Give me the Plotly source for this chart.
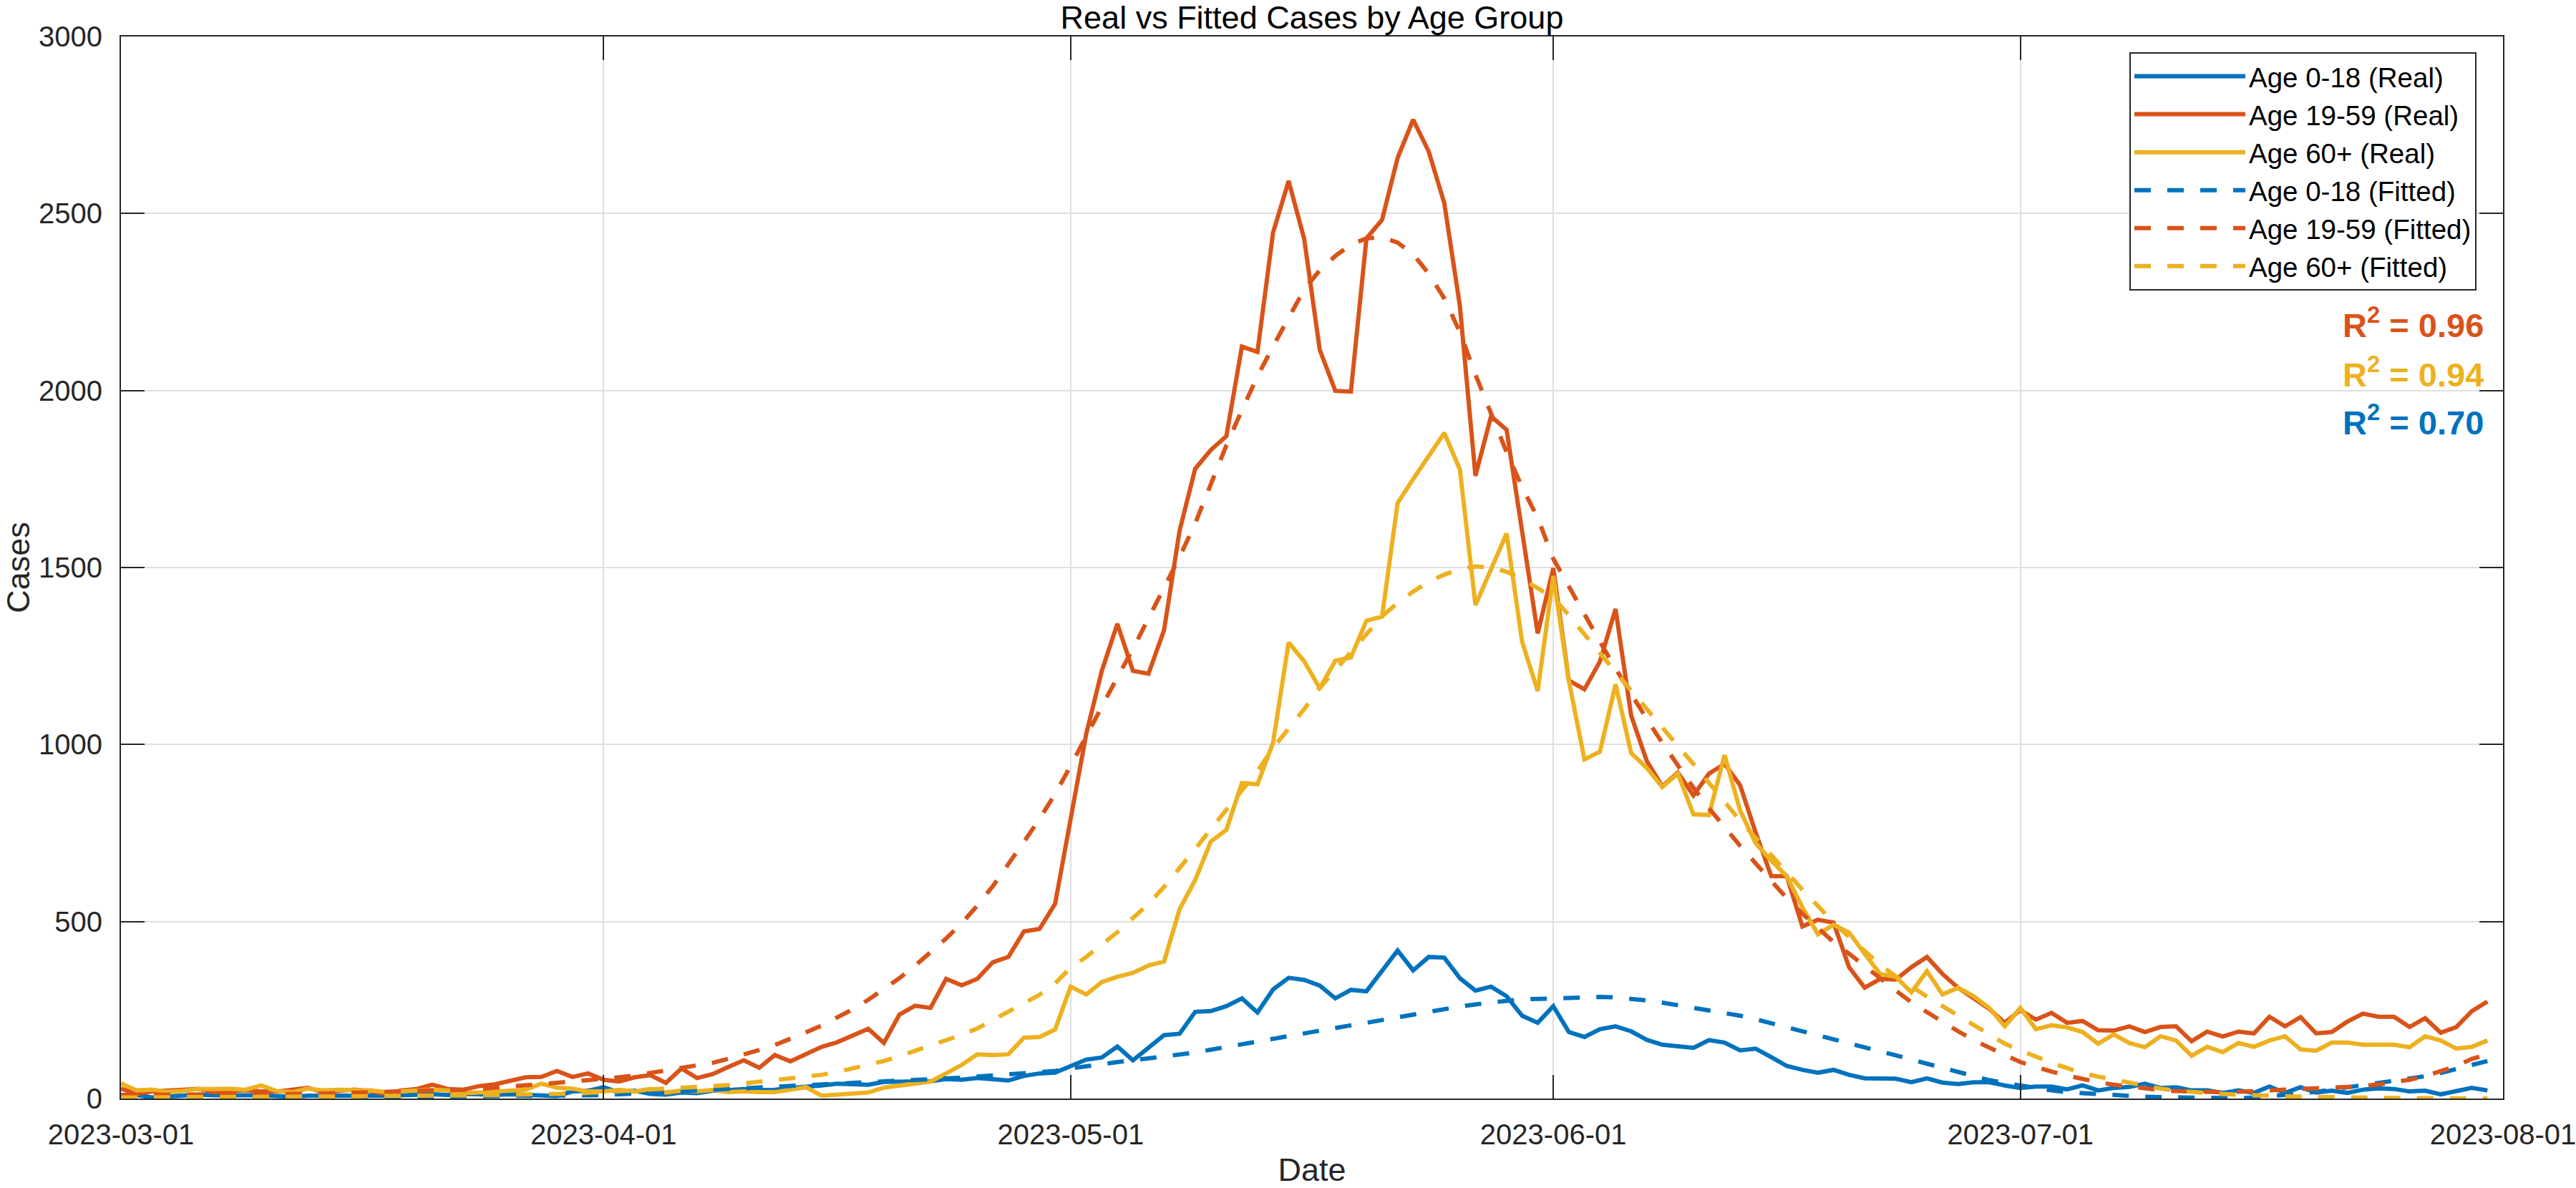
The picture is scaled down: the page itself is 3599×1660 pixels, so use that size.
import pandas as pd
import plotly.graph_objects as go

# ---------------- data ----------------
start_date = "2023-03-01"
n_days = 153
dates = pd.date_range(start_date, periods=n_days, freq="D")

real_0_18 = [
    7, 10, 3, 5, 10, 11, 9, 10, 11, 9, 7, 5, 8, 8, 5, 7, 8, 8, 9, 11, 12, 10, 13, 12, 10, 12, 10, 10, 7, 20, 22,
    32, 17, 22, 13, 11, 17, 15, 22, 24, 27, 24, 25, 30, 32, 37, 42, 39, 39, 47, 48, 47, 49, 55, 53, 58, 56, 51, 64, 71, 73,
    90, 110, 116, 147, 108, 143, 179, 183, 245, 247, 261, 283, 243, 308, 341, 335, 319, 283, 307, 303, 360, 418, 362, 400, 398, 340, 305, 316, 289, 234, 214,
    261, 188, 174, 196, 204, 190, 166, 152, 147, 143, 165, 158, 136, 141, 117, 92, 81, 73, 81, 67, 57, 57, 56, 46, 57, 45, 41, 46, 46, 37,
    30, 34, 34, 26, 37, 23, 30, 33, 42, 30, 32, 23, 23, 16, 23, 16, 34, 16, 32, 17, 22, 16, 25, 29, 27, 20, 22, 12, 20, 30, 23,
]
real_19_59 = [
    28, 13, 20, 21, 25, 27, 17, 21, 23, 20, 20, 25, 30, 18, 23, 25, 21, 13, 23, 27, 39, 27, 25, 35, 40, 50, 60, 61, 78, 61, 71,
    53, 48, 60, 66, 44, 85, 58, 69, 89, 108, 87, 123, 105, 126, 146, 159, 179, 197, 157, 237, 262, 256, 338, 320, 338, 385, 400, 472, 479, 550,
    790, 1030, 1208, 1341, 1208, 1200, 1323, 1605, 1779, 1832, 1871, 2124, 2109, 2446, 2592, 2428, 2115, 1999, 1997, 2430, 2482, 2657, 2765, 2675, 2529, 2239, 1759, 1927, 1889, 1600, 1314,
    1498, 1181, 1156, 1235, 1383, 1082, 954, 882, 921, 856, 918, 945, 885, 751, 628, 628, 486, 505, 497, 371, 313, 338, 336, 371, 400, 352, 313, 283, 253, 214,
    250, 223, 242, 214, 219, 193, 192, 204, 188, 202, 204, 162, 189, 175, 189, 184, 231, 204, 230, 184, 188, 217, 240, 231, 231, 202, 227, 186, 202, 247, 274,
]
real_60_plus = [
    43, 23, 25, 19, 22, 27, 27, 28, 25, 37, 21, 18, 28, 23, 25, 25, 23, 18, 20, 23, 25, 23, 15, 17, 20, 23, 25, 42, 31, 28, 20,
    20, 24, 20, 27, 17, 22, 20, 24, 18, 20, 18, 18, 25, 32, 8, 11, 17, 17, 31, 37, 42, 48, 71, 95, 125, 123, 125, 172, 174, 195,
    316, 294, 329, 344, 355, 376, 387, 535, 617, 726, 759, 891, 888, 1005, 1288, 1235, 1159, 1237, 1246, 1350, 1361, 1682, 1750, 1815, 1880, 1777, 1394, 1495, 1596, 1290, 1151,
    1476, 1180, 958, 980, 1170, 976, 934, 880, 918, 803, 801, 970, 814, 721, 672, 628, 540, 464, 491, 469, 409, 352, 344, 300, 360, 294, 313, 289, 256, 204,
    256, 196, 207, 201, 188, 155, 181, 157, 145, 176, 164, 121, 146, 131, 157, 146, 164, 176, 139, 135, 158, 158, 152, 152, 152, 145, 176, 164, 141, 146, 164,
]
fit_0_18 = [
    2, 2, 2, 2, 2, 2, 3, 3, 3, 3, 3, 3, 4, 4, 4, 4, 5, 5, 5, 5, 5, 6, 6, 6, 6, 7, 7, 7, 8, 8, 9,
    10, 12, 14, 16, 18, 20, 22, 24, 26, 28, 30, 32, 34, 36, 38, 40, 42, 44, 46, 48, 50, 53, 56, 59, 62, 65, 68, 71, 74, 78,
    85, 92, 98, 103, 108, 113, 118, 124, 130, 138, 146, 154, 162, 170, 178, 186, 194, 200, 207, 214, 222, 230, 238, 245, 252, 260, 266, 272, 276, 280, 282,
    284, 286, 287, 287, 286, 282, 277, 271, 264, 257, 250, 242, 234, 224, 213, 202, 191, 180, 168, 156, 145, 134, 122, 110, 98, 86, 74, 62, 52, 44,
    36, 29, 23, 18, 15, 11, 8, 6, 5, 4, 3, 2, 1, 1, 1, 3, 6, 10, 14, 19, 25, 30, 36, 43, 49, 55, 63, 72, 82, 95, 106,
]
fit_19_59 = [
    10, 10, 10, 10, 10, 11, 11, 11, 12, 12, 12, 13, 13, 14, 15, 16, 17, 18, 19, 20, 22, 23, 25, 27, 30, 33, 36, 40, 44, 48, 52,
    55, 60, 65, 72, 78, 86, 93, 101, 112, 123, 137, 151, 168, 187, 206, 228, 252, 279, 308, 340, 375, 412, 452, 495, 545, 600, 660, 725, 790, 860,
    940, 1024, 1109, 1190, 1270, 1355, 1440, 1530, 1625, 1735, 1845, 1945, 2040, 2125, 2205, 2285, 2340, 2380, 2412, 2430, 2433, 2418, 2385, 2330, 2260, 2165, 2045, 1935, 1826, 1727, 1640,
    1525, 1445, 1365, 1290, 1215, 1142, 1072, 1005, 940, 878, 820, 766, 714, 664, 614, 566, 522, 480, 442, 409, 376, 340, 305, 272, 244, 216, 190, 165, 143, 123,
    103, 89, 76, 65, 55, 46, 39, 33, 28, 24, 21, 19, 18, 18, 19, 21, 23, 24, 25, 27, 29, 31, 35, 40, 46, 53, 63, 76, 92, 112, 125,
]
fit_60_plus = [
    3, 3, 3, 3, 3, 4, 4, 4, 4, 5, 5, 5, 5, 6, 6, 6, 7, 7, 7, 8, 8, 9, 9, 10, 10, 11, 11, 12, 13, 14, 16,
    18, 20, 22, 25, 28, 31, 33, 35, 38, 43, 47, 51, 55, 60, 67, 75, 85, 95, 106, 120, 135, 148, 162, 180, 198, 222, 244, 268, 293, 325,
    370, 400, 435, 470, 510, 550, 598, 650, 705, 761, 815, 870, 925, 990, 1045, 1100, 1160, 1210, 1260, 1310, 1362, 1400, 1432, 1460, 1480, 1495, 1503, 1500, 1488, 1468, 1442,
    1415, 1365, 1310, 1258, 1205, 1152, 1100, 1048, 996, 945, 890, 838, 785, 735, 688, 639, 590, 542, 497, 456, 416, 378, 345, 315, 288, 261, 234, 207, 180, 155,
    136, 117, 101, 86, 72, 62, 53, 46, 36, 28, 22, 18, 15, 13, 11, 9, 7, 6, 5, 4, 4, 3, 2, 1, 1, 1, 1, 1, 0, 0, 0,
]

series_names_real = ["Age 0-18 (Real)", "Age 19-59 (Real)", "Age 60+ (Real)"]
series_names_fit = ["Age 0-18 (Fitted)", "Age 19-59 (Fitted)", "Age 60+ (Fitted)"]
r2_values = ["0.96", "0.94", "0.70"]  # 19-59, 60+, 0-18

x_tick_vals = ["2023-03-01", "2023-04-01", "2023-05-01", "2023-06-01", "2023-07-01", "2023-08-01"]
x_tick_labels = ["2023-03-01", "2023-04-01", "2023-05-01", "2023-06-01", "2023-07-01", "2023-08-01"]
y_tick_vals = [0, 500, 1000, 1500, 2000, 2500, 3000]
y_tick_labels = ["0", "500", "1000", "1500", "2000", "2500", "3000"]

# ---------------- style ----------------
BLUE = "#0072BD"
ORANGE = "#D95319"
YELLOW = "#EDB120"
colors = [BLUE, ORANGE, YELLOW]
AX = "#262626"
FONT = "Liberation Sans, Arial, Helvetica, sans-serif"

W, H = 3599, 1660
L, R, T, B = 169, 3497, 51, 1535
plot_w, plot_h = R - L, B - T

fig = go.Figure()
for name, vals, c in zip(series_names_real, [real_0_18, real_19_59, real_60_plus], colors):
    fig.add_trace(go.Scatter(x=dates, y=vals, mode="lines", name=name,
                             line=dict(color=c, width=6)))
for name, vals, c in zip(series_names_fit, [fit_0_18, fit_19_59, fit_60_plus], colors):
    fig.add_trace(go.Scatter(x=dates, y=vals, mode="lines", name=name,
                             line=dict(color=c, width=6, dash="23px,23px")))

# R^2 annotations
r2_colors = [ORANGE, YELLOW, BLUE]
r2_centers = [451, 520, 587]
for val, c, yc in zip(r2_values, r2_colors, r2_centers):
    fig.add_annotation(
        xref="paper", yref="paper",
        x=(3472 - L) / plot_w, y=(B - yc) / plot_h,
        xanchor="right", yanchor="middle",
        text=f"<b>R<sup>2</sup> = {val}</b>",
        showarrow=False,
        font=dict(family=FONT, size=47, color=c),
    )

axis_common = dict(
    showline=True, linecolor=AX, linewidth=2, mirror="ticks",
    ticks="inside", ticklen=33, tickwidth=2, tickcolor=AX,
    showgrid=True, gridcolor="#DFDFDF", gridwidth=2,
    zeroline=False,
    tickfont=dict(family=FONT, size=40, color=AX),
    ticklabeloverflow="allow",
)

fig.update_layout(
    width=W, height=H,
    autosize=False,
    margin=dict(l=L, r=W - R, t=T, b=H - B, pad=0),
    paper_bgcolor="white", plot_bgcolor="white",
    font=dict(family=FONT, color=AX),
    title=dict(text="Real vs Fitted Cases by Age Group", x=0.5, xref="paper", xanchor="center",
               y=1 - 24 / H, yref="container", yanchor="middle",
               font=dict(family=FONT, size=45, color="black")),
    xaxis=dict(type="date", range=[x_tick_vals[0], "2023-08-01 00:01"],
               tickvals=x_tick_vals, ticktext=x_tick_labels,
               ticklabelstandoff=14,
               title=dict(text="Date", font=dict(family=FONT, size=45, color=AX), standoff=22),
               automargin=False, **axis_common),
    yaxis=dict(range=[0, 3000], tickvals=y_tick_vals, ticktext=y_tick_labels,
               ticklabelstandoff=16,
               title=dict(text="Cases", font=dict(family=FONT, size=45, color=AX), standoff=24),
               automargin=False, **axis_common),
    legend=dict(x=(2975 - L) / plot_w, y=(B - 73) / plot_h, xanchor="left", yanchor="top",
                bgcolor="white", bordercolor=AX, borderwidth=2,
                font=dict(family=FONT, size=38.5, color="black"),
                itemwidth=155, tracegroupgap=0, traceorder="normal"),
    showlegend=True,
)

fig.write_html("out.html", config={"displayModeBar": False},
               post_script="document.body.style.margin='0px';document.body.style.overflow='hidden';")
